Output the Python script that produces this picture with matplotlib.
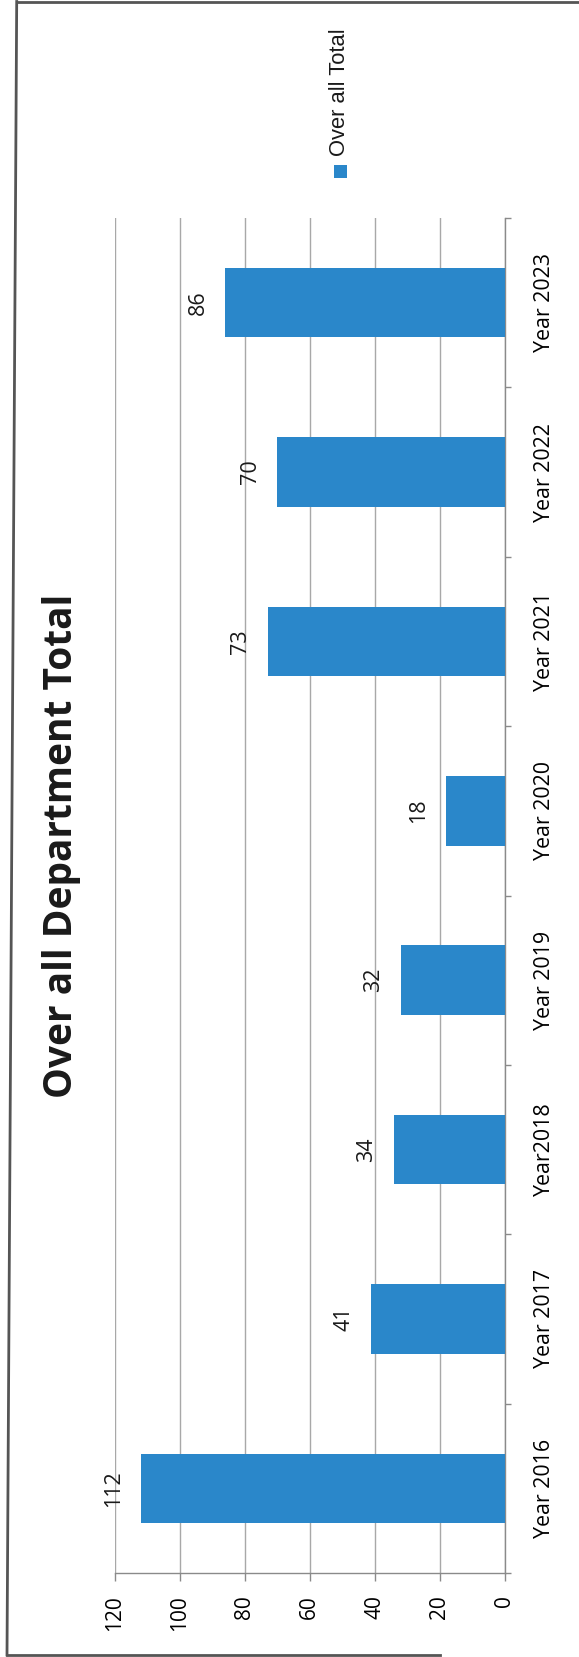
"""
Over all Department Total - bar chart, printed a quarter turn (reads bottom to top).
Drawn as horizontal bars with rotated text so the page layout matches the scan.
"""

import matplotlib
matplotlib.use("Agg")
import matplotlib.pyplot as plt
from matplotlib.patches import Rectangle
from matplotlib.lines import Line2D

W, H = 579, 1657

categories = ["Year 2016", "Year 2017", "Year2018", "Year 2019",
              "Year 2020", "Year 2021", "Year 2022", "Year 2023"]
totals = [112, 41, 34, 32, 18, 73, 70, 86]
value_ticks = [0, 20, 40, 60, 80, 100, 120]
series_name = "Over all Total"
chart_title = "Over all Department Total"

BAR_COLOR = "#2A87CA"
GRID_COLOR = "#A8A8A8"
AXIS_COLOR = "#8A8A8A"
TEXT_COLOR = "#1A1A1A"

plt.rcParams["font.family"] = ["Open Sans", "DejaVu Sans"]
plt.rcParams["text.color"] = TEXT_COLOR


def fx(x):
    return x / W


def fy(y):
    # pixel row measured from the top -> figure fraction
    return 1 - y / H


fig = plt.figure(figsize=(W / 100, H / 100), dpi=100)

# plot area: value 120 at x=115px, value 0 at x=504.5px, categories between rows 218 and 1573
ax = fig.add_axes([fx(115), fy(1573), fx(504.5) - fx(115), fy(218) - fy(1573)])
pos = list(range(len(categories)))
bars = ax.barh(pos, totals, height=0.41, color=BAR_COLOR, zorder=3)

ax.set_xlim(max(value_ticks), 0)
ax.set_ylim(-0.5, len(categories) - 0.5)
ax.set_xticks(value_ticks)
ax.set_xticklabels([str(v) for v in value_ticks], rotation=90, fontsize=15)
ax.grid(axis="x", color=GRID_COLOR, linewidth=1, zorder=0)

# category axis sits on the right (the "bottom" once the page is turned)
ax.yaxis.tick_right()
ax.set_yticks(pos)
ax.set_yticklabels(categories, rotation=90, fontsize=15.4, va="center")
ax.set_yticks([p - 0.5 for p in pos] + [len(pos) - 0.5], minor=True)
ax.tick_params(axis="y", which="major", length=0, pad=21)
ax.tick_params(axis="y", which="minor", length=4.5, width=1, color=AXIS_COLOR, direction="out")
ax.tick_params(axis="x", length=6, width=1, color=AXIS_COLOR, pad=10)

for side in ("top", "left"):
    ax.spines[side].set_visible(False)
for side in ("right", "bottom"):
    ax.spines[side].set_color(AXIS_COLOR)
    ax.spines[side].set_linewidth(1)

ax.bar_label(bars, rotation=90, fontsize=15.5, padding=12)

# title, turned with the chart
fig.text(fx(62), fy(846), chart_title, rotation=90, ha="center", va="center",
         fontsize=28, fontweight="bold")

# legend, drawn by hand so it can be turned as well
fig.add_artist(Rectangle((fx(334), fy(178)), fx(13), fy(165) - fy(178),
                         transform=fig.transFigure, facecolor=BAR_COLOR, edgecolor="none"))
fig.text(fx(339.5), fy(92), series_name, rotation=90, ha="center", va="center",
         fontsize=15.8, family=["Liberation Sans", "DejaVu Sans"])

# frame of the printed page
frame = dict(transform=fig.transFigure, color="#555555", linewidth=2)
fig.add_artist(Line2D([fx(16.7), fx(579)], [fy(1.5), fy(1.5)], **frame))
fig.add_artist(Line2D([fx(16.7), fx(7)], [fy(1.5), fy(1655)], **frame))
fig.add_artist(Line2D([fx(7), fx(440)], [fy(1655), fy(1655)], **frame))

fig.savefig("out.png", dpi=100)
